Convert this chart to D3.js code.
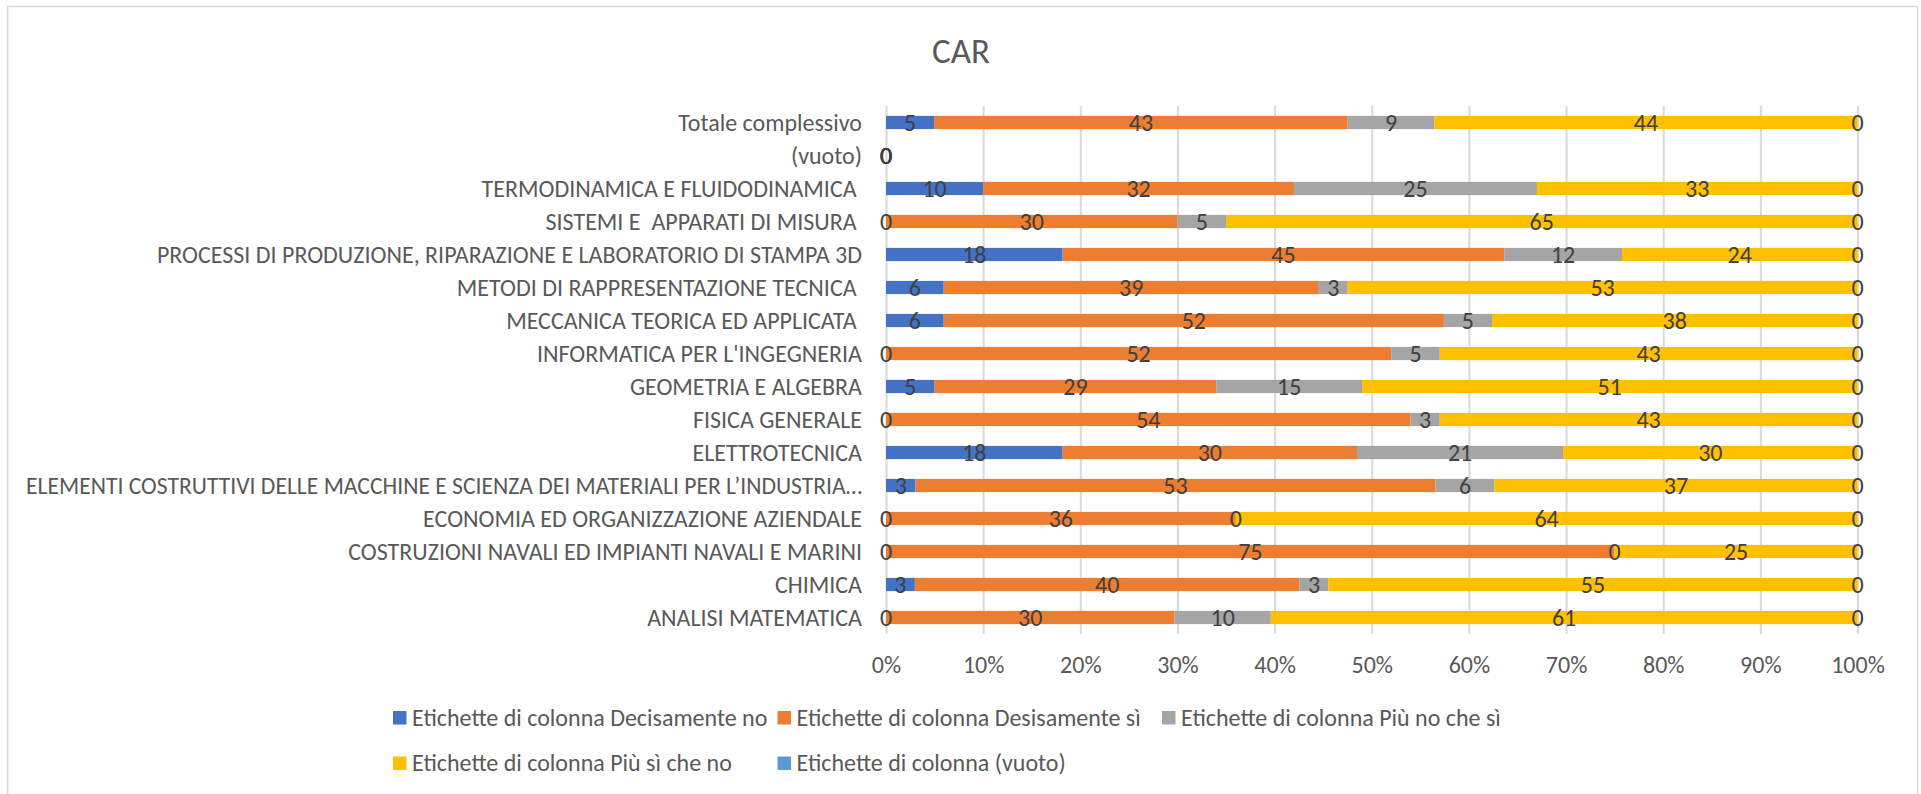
<!DOCTYPE html>
<html>
<head>
<meta charset="utf-8">
<script src="https://cdnjs.cloudflare.com/ajax/libs/d3/7.8.5/d3.min.js"></script>
<style>
  html, body { margin: 0; padding: 0; background: #fff; overflow: hidden; }
  #chart     { display: block; font-family: Carlito, Calibri, Lato, sans-serif; }
  #chart text { white-space: pre; }
</style>
</head>
<body>
<svg id="chart"></svg>
<script>

// Chart title.
const chartTitle = 'CAR';

// Categories, top to bottom as they show on the chart.
const categories = [
  'Totale complessivo',
  '(vuoto)',
  'TERMODINAMICA E FLUIDODINAMICA ',
  'SISTEMI E  APPARATI DI MISURA ',
  'PROCESSI DI PRODUZIONE, RIPARAZIONE E LABORATORIO DI STAMPA 3D',
  'METODI DI RAPPRESENTAZIONE TECNICA ',
  'MECCANICA TEORICA ED APPLICATA ',
  'INFORMATICA PER L\'INGEGNERIA',
  'GEOMETRIA E ALGEBRA',
  'FISICA GENERALE',
  'ELETTROTECNICA',
  'ELEMENTI COSTRUTTIVI DELLE MACCHINE E SCIENZA DEI MATERIALI PER L’INDUSTRIA…',
  'ECONOMIA ED ORGANIZZAZIONE AZIENDALE',
  'COSTRUZIONI NAVALI ED IMPIANTI NAVALI E MARINI',
  'CHIMICA',
  'ANALISI MATEMATICA'
];

// Series names (legend) and their colours.
const seriesNames = [
  'Etichette di colonna Decisamente no',
  'Etichette di colonna Desisamente sì',
  'Etichette di colonna Più no che sì',
  'Etichette di colonna Più sì che no',
  'Etichette di colonna (vuoto)'
];
const seriesColors = [ '#4472C4', '#ED7D31', '#A5A5A5', '#FFC000', '#5B9BD5' ];

// Values for each series, same order as categories.
const decisamenteNo = [  5, 0, 10,  0, 18,  6,  6,  0,  5,  0, 18,  3,  0,  0,  3,  0 ];
const desisamenteSi = [ 43, 0, 32, 30, 45, 39, 52, 52, 29, 54, 30, 53, 36, 75, 40, 30 ];
const piuNoCheSi    = [  9, 0, 25,  5, 12,  3,  5,  5, 15,  3, 21,  6,  0,  0,  3, 10 ];
const piuSiCheNo    = [ 44, 0, 33, 65, 24, 53, 38, 43, 51, 43, 30, 37, 64, 25, 55, 61 ];
const vuoto         = [  0, 0,  0,  0,  0,  0,  0,  0,  0,  0,  0,  0,  0,  0,  0,  0 ];

// Ticks of the percent axis.
const tickValues = [ 0, 0.1, 0.2, 0.3, 0.4, 0.5, 0.6, 0.7, 0.8, 0.9, 1 ];
const tickLabels = [ '0%', '10%', '20%', '30%', '40%', '50%', '60%', '70%', '80%', '90%', '100%' ];


// The Chart Builder class.
class ChartBuilder {

  constructor ( ) {
    // Sizes.
    this.width   = 1921;
    this.height  = 794;
    this.plot    = { left: 886, right: 1857.5, top: 106, bottom: 634 };
    this.textCol = '#595959';
    this.font    = 24;
    this.minLeft = 26;

    // Builds the table for the stack.
    this.series = [ decisamenteNo, desisamenteSi, piuNoCheSi, piuSiCheNo, vuoto ];
    this.keys   = seriesNames.map( ( d, i ) => i );
    this.rows   = categories.map( ( c, j ) => {
      const row = { category: c };
      this.series.forEach( ( s, i ) => row[ i ] = s[ j ] );
      return row;
    } );
    this.stacked = d3.stack( ).keys( this.keys ).offset( d3.stackOffsetExpand )( this.rows );

    this.chart  = d3.select( '#chart' );
    this.canvas = this.chart.append( 'g' );
  }

  makeCanvas ( ) {
    this.chart
      .attr( 'width' , this.width )
      .attr( 'height', this.height );
    // Light chart border.
    this.canvas.append( 'rect' )
      .attr( 'x'     , 7.5 )
      .attr( 'y'     , 6.5 )
      .attr( 'width' , 1910 )
      .attr( 'height', 800 )
      .attr( 'fill'  , 'none' )
      .attr( 'stroke', '#D9D9D9' )
      .attr( 'stroke-width', 1.5 );
    return this;
  }

  drawTitle ( ) {
    this.canvas.append( 'text' )
      .attr( 'x'          , 961 )
      .attr( 'y'          , 63 )
      .attr( 'text-anchor', 'middle' )
      .attr( 'fill'       , this.textCol )
      .style( 'font-size' , '35px' )
      .text( chartTitle );
    return this;
  }

  setScales ( ) {
    this.x = d3.scaleLinear( )
      .domain( [ 0, 1 ] )
      .range( [ this.plot.left, this.plot.right ] );
    this.y = d3.scaleBand( )
      .domain( categories )
      .range( [ this.plot.top, this.plot.bottom ] )
      .paddingInner( 0.6 )
      .paddingOuter( 0.3 );
    return this;
  }

  drawGrid ( ) {
    const grid = d3.axisBottom( this.x )
      .tickValues( tickValues )
      .tickSize( this.plot.top - this.plot.bottom )
      .tickFormat( '' );
    this.canvas.append( 'g' )
      .attr( 'transform', `translate( 0, ${this.plot.bottom} )` )
      .call( grid )
      .call( g => g.select( '.domain' ).remove( ) )
      .selectAll( 'line' )
        .attr( 'stroke', '#D9D9D9' )
        .attr( 'stroke-width', 2 );
    return this;
  }

  drawAxes ( ) {
    const xAxis = d3.axisBottom( this.x )
      .tickValues( tickValues )
      .tickSize( 0 )
      .tickPadding( 0 )
      .tickFormat( ( d, i ) => tickLabels[ i ] );
    this.canvas.append( 'g' )
      .attr( 'transform', `translate( 0, ${this.plot.bottom} )` )
      .call( xAxis )
      .attr( 'font-family', null )
      .attr( 'font-size'  , null )
      .call( g => g.select( '.domain' ).remove( ) )
      .selectAll( 'text' )
        .attr( 'y'   , 38.5 )
        .attr( 'dy'  , 0 )
        .attr( 'fill', this.textCol )
        .style( 'font-size', `${this.font}px` );

    const yAxis = d3.axisLeft( this.y )
      .tickSize( 0 )
      .tickPadding( 24 );
    this.canvas.append( 'g' )
      .attr( 'transform', `translate( ${this.plot.left}, 0 )` )
      .call( yAxis )
      .attr( 'font-family', null )
      .attr( 'font-size'  , null )
      .call( g => g.select( '.domain' ).remove( ) )
      .selectAll( 'text' )
        .attr( 'dy'  , '0.35em' )
        .attr( 'fill', this.textCol )
        .style( 'font-size', `${this.font}px` )
        // Squeezes a label that is too long for the space left of the plot.
        .each( ( d, i, nodes ) => {
          const node  = nodes[ i ];
          const room  = this.plot.left - 24 - this.minLeft;
          const width = node.getComputedTextLength( );
          if ( width > room ) {
            d3.select( node )
              .attr( 'textLength'  , room )
              .attr( 'lengthAdjust', 'spacingAndGlyphs' );
          }
        } );
    return this;
  }

  drawBars ( ) {
    this.layers = this.canvas.append( 'g' )
      .selectAll( 'g' )
      .data( this.stacked )
      .join( 'g' )
        .attr( 'fill', d => seriesColors[ d.key ] );
    this.layers.selectAll( 'rect' )
      .data( d => d )
      .join( 'rect' )
        .attr( 'x'     , d => this.x( d[ 0 ] ) )
        .attr( 'y'     , d => this.y( d.data.category ) )
        .attr( 'width' , d => this.x( d[ 1 ] ) - this.x( d[ 0 ] ) )
        .attr( 'height', this.y.bandwidth( ) );
    return this;
  }

  drawLabels ( ) {
    this.canvas.append( 'g' )
      .selectAll( 'g' )
      .data( this.stacked )
      .join( 'g' )
      .selectAll( 'text' )
      .data( d => d.map( p => ( { p, value: p.data[ d.key ] } ) ) )
      .join( 'text' )
        .attr( 'x'          , d => ( this.x( d.p[ 0 ] ) + this.x( d.p[ 1 ] ) ) / 2 )
        .attr( 'y'          , d => this.y( d.p.data.category ) + this.y.bandwidth( ) / 2 )
        .attr( 'dy'         , '0.36em' )
        .attr( 'text-anchor', 'middle' )
        .attr( 'fill'       , '#404040' )
        .style( 'font-size' , `${this.font}px` )
        .text( d => d.value );
    return this;
  }

  drawLegend ( ) {
    const colWidth = 384.5;
    const rowGap   = 45.5;
    const item = this.canvas.append( 'g' )
      .attr( 'transform', 'translate( 393, 711 )' )
      .selectAll( 'g' )
      .data( seriesNames )
      .join( 'g' )
        .attr( 'transform', ( d, i ) => `translate( ${( i % 3 ) * colWidth}, ${Math.floor( i / 3 ) * rowGap} )` );
    item.append( 'rect' )
      .attr( 'width' , 13.5 )
      .attr( 'height', 13.5 )
      .attr( 'fill'  , ( d, i ) => seriesColors[ i ] );
    item.append( 'text' )
      .attr( 'x'    , 19 )
      .attr( 'y'    , 14.5 )
      .attr( 'fill' , this.textCol )
      .style( 'font-size', `${this.font}px` )
      .text( d => d );
    return this;
  }

}

const builder = new ChartBuilder( );
builder.makeCanvas( ).drawTitle( ).setScales( ).drawGrid( ).drawBars( ).drawAxes( ).drawLabels( ).drawLegend( );

</script>
</body>
</html>
